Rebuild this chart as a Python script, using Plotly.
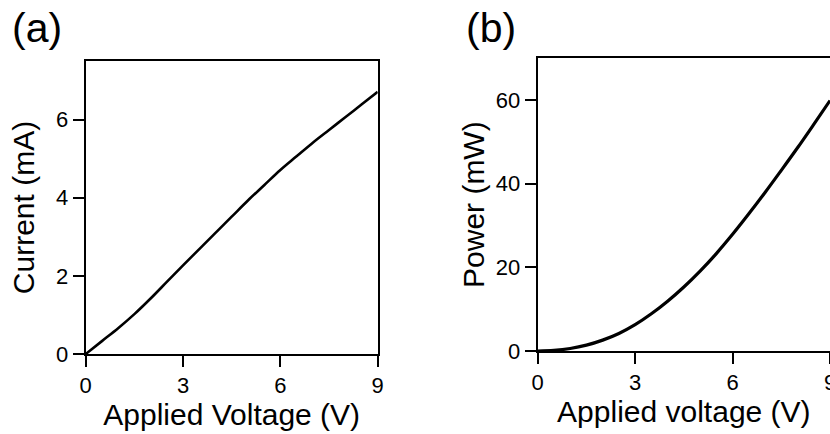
import plotly.graph_objects as go

# Data
voltage = [0, 0.5, 1, 1.5, 2, 2.5, 3, 3.5, 4, 4.5, 5, 5.5, 6, 6.5, 7, 7.5, 8, 8.5, 9]
current_mA = [0, 0.33, 0.66, 1.02, 1.42, 1.845, 2.27, 2.685, 3.10, 3.515, 3.93, 4.32,
              4.71, 5.06, 5.41, 5.735, 6.06, 6.385, 6.71]
power_mW = [0, 0.15, 0.6, 1.4, 2.6, 4.2, 6.3, 8.9, 11.9, 15.3, 19.1, 23.3,
            27.9, 32.8, 37.9, 43.2, 48.6, 54.2, 59.9]

x_ticks = [0, 3, 6, 9]
current_ticks = [0, 2, 4, 6]
power_ticks = [0, 20, 40, 60]

W, H = 830, 434
FONT = "Arial, Liberation Sans, sans-serif"

fig = go.Figure()
fig.add_trace(go.Scatter(x=voltage, y=current_mA, mode="lines", line=dict(color="black", width=2.6, shape="spline"),
                         xaxis="x", yaxis="y", showlegend=False, hoverinfo="skip"))
fig.add_trace(go.Scatter(x=voltage, y=power_mW, mode="lines", line=dict(color="black", width=3.2, shape="spline"),
                         xaxis="x2", yaxis="y2", showlegend=False, hoverinfo="skip"))

axis_common = dict(showgrid=False, zeroline=False, showline=True, linecolor="black", linewidth=2,
                   ticks="outside", ticklen=11, tickwidth=2, tickcolor="black",
                   automargin=False, ticklabeloverflow="allow",
                   tickfont=dict(family=FONT, size=22, color="black"))

fig.update_layout(
    width=W, height=H,
    margin=dict(l=0, r=0, t=0, b=0, autoexpand=False),
    paper_bgcolor="white", plot_bgcolor="white",
    font=dict(family=FONT, color="black"),
    xaxis=dict(domain=[85.7 / W, 377.7 / W], range=[0, 9], tickvals=x_ticks, anchor="y", mirror=True,
               title=dict(text="Applied Voltage (V)", font=dict(family=FONT, size=30), standoff=4),
               **axis_common),
    yaxis=dict(domain=[(H - 354) / H, (H - 61) / H], range=[0, 7.5], tickvals=current_ticks, anchor="x", mirror=True,
               title=dict(text="Current (mA)", font=dict(family=FONT, size=30), standoff=13),
               **axis_common),
    xaxis2=dict(domain=[537.7 / W, 1.0], range=[0, 9], tickvals=x_ticks, anchor="y2", mirror=True,
                title=dict(text="Applied voltage (V)", font=dict(family=FONT, size=30), standoff=4),
                **axis_common),
    yaxis2=dict(domain=[(H - 351) / H, (H - 58.3) / H], range=[0, 70], tickvals=power_ticks, anchor="x2", mirror=False,
                title=dict(text="Power (mW)", font=dict(family=FONT, size=30), standoff=2),
                **axis_common),
    annotations=[
        dict(text="(a)", x=10 / W, y=1 - 28 / H, xref="paper", yref="paper", xanchor="left", yanchor="middle",
             showarrow=False, font=dict(family=FONT, size=41, color="black")),
        dict(text="(b)", x=464 / W, y=1 - 28 / H, xref="paper", yref="paper", xanchor="left", yanchor="middle",
             showarrow=False, font=dict(family=FONT, size=41, color="black")),
    ],
)

fig.write_html("out.html", config={"displayModeBar": False, "staticPlot": True},
               post_script="document.body.style.margin='0';document.body.style.overflow='hidden';")
